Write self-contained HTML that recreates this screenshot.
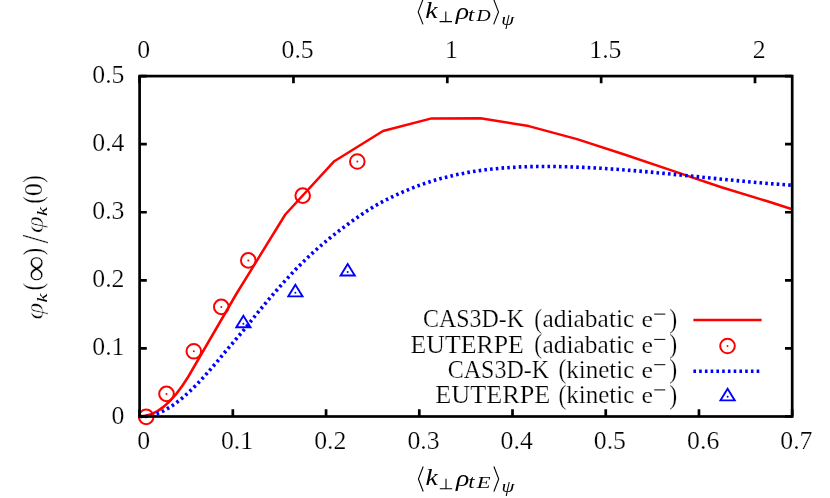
<!DOCTYPE html>
<html><head><meta charset="utf-8"><title>chart</title>
<style>
html,body{margin:0;padding:0;background:#fff;}
svg{display:block;will-change:transform;}
text{font-family:"Liberation Serif",serif;fill:#000;stroke:#fff;stroke-width:0.22px;}
.t{font-size:24.2px;}
.i{font-style:italic;stroke:none;}
</style></head><body>
<svg width="830" height="498" viewBox="0 0 830 498">
<rect width="830" height="498" fill="#fff"/>
<path d="M139.6 416.5 Q163.85 416.5 188.1 377.0 L236.6 293.5 L285.3 214.5 L334.3 161.2 L383.0 131.0 L431.6 118.4 L480.5 118.2 L528.7 126.1 L577.0 139.1 L624.4 154.5 L672.9 170.9 L721.4 187.2 L769.8 202.0 L792.2 209.3" fill="none" stroke="#f00" stroke-width="2.5" stroke-linejoin="round"/>
<path d="M139.6 416.5 L145.6 416.4 L151.6 415.3 L157.6 413.4 L163.6 410.8 L169.6 407.4 L175.6 403.3 L181.6 398.6 L187.6 393.3 L193.6 387.6 L199.6 381.5 L205.6 374.9 L211.6 368.1 L217.6 361.1 L223.6 353.8 L229.6 346.7 L235.6 339.7 L241.6 332.6 L247.6 325.3 L253.6 317.8 L259.6 310.4 L265.6 303.2 L271.6 296.1 L277.6 289.2 L283.6 282.4 L289.6 275.9 L295.6 269.5 L301.6 263.5 L307.6 257.6 L313.6 252.0 L319.6 246.7 L325.6 241.6 L331.6 236.6 L337.6 231.9 L343.6 227.4 L349.6 222.9 L355.6 218.6 L361.6 214.5 L367.6 210.5 L373.6 206.7 L379.6 203.3 L385.6 200.1 L391.6 197.1 L397.6 194.3 L403.6 191.6 L409.6 189.1 L415.6 186.7 L421.6 184.5 L427.6 182.5 L433.6 180.6 L439.6 178.9 L440.0 178.7 L456.0 174.8 L472.0 171.7 L488.0 169.4 L504.0 167.9 L520.0 166.9 L536.0 166.5 L552.0 166.5 L568.0 166.8 L584.0 167.4 L600.0 168.2 L616.0 169.3 L632.0 170.5 L648.0 171.9 L664.0 173.4 L680.0 175.0 L696.0 176.6 L712.0 178.2 L728.0 179.8 L744.0 181.3 L760.0 182.8 L776.0 184.1 L792.0 185.2 L792.2 185.2" fill="none" stroke="#00f" stroke-width="3.6" stroke-dasharray="2.6 3.15" stroke-linejoin="round"/>
<circle cx="146.2" cy="416.9" r="7.3" fill="none" stroke="#f00" stroke-width="2.0"/><circle cx="146.2" cy="416.9" r="1" fill="#f00"/>
<circle cx="166.5" cy="393.9" r="7.3" fill="none" stroke="#f00" stroke-width="2.0"/><circle cx="166.5" cy="393.9" r="1" fill="#f00"/>
<circle cx="193.8" cy="351.3" r="7.3" fill="none" stroke="#f00" stroke-width="2.0"/><circle cx="193.8" cy="351.3" r="1" fill="#f00"/>
<circle cx="221.3" cy="306.9" r="7.3" fill="none" stroke="#f00" stroke-width="2.0"/><circle cx="221.3" cy="306.9" r="1" fill="#f00"/>
<circle cx="248.3" cy="260.4" r="7.3" fill="none" stroke="#f00" stroke-width="2.0"/><circle cx="248.3" cy="260.4" r="1" fill="#f00"/>
<circle cx="302.7" cy="195.6" r="7.3" fill="none" stroke="#f00" stroke-width="2.0"/><circle cx="302.7" cy="195.6" r="1" fill="#f00"/>
<circle cx="357.3" cy="161.5" r="7.3" fill="none" stroke="#f00" stroke-width="2.0"/><circle cx="357.3" cy="161.5" r="1" fill="#f00"/>
<path d="M243.40 315.75 L236.30 327.25 L250.50 327.25 Z" fill="none" stroke="#00f" stroke-width="1.9" stroke-linejoin="miter"/><circle cx="243.4" cy="323.7" r="1" fill="#00f"/>
<path d="M295.40 284.85 L288.30 296.35 L302.50 296.35 Z" fill="none" stroke="#00f" stroke-width="1.9" stroke-linejoin="miter"/><circle cx="295.4" cy="292.8" r="1" fill="#00f"/>
<path d="M347.70 264.05 L340.60 275.55 L354.80 275.55 Z" fill="none" stroke="#00f" stroke-width="1.9" stroke-linejoin="miter"/><circle cx="347.7" cy="272.0" r="1" fill="#00f"/>
<path d="M693.4 320.1 H761.6" stroke="#f00" stroke-width="2.5"/>
<circle cx="727.5" cy="346.0" r="7.3" fill="none" stroke="#f00" stroke-width="2.0"/><circle cx="727.5" cy="346.0" r="1" fill="#f00"/>
<path d="M693.4 371.3 H761.6" stroke="#00f" stroke-width="3.6" stroke-dasharray="2.6 3.15"/>
<path d="M727.60 388.85 L720.50 400.35 L734.70 400.35 Z" fill="none" stroke="#00f" stroke-width="1.9" stroke-linejoin="miter"/><circle cx="727.6" cy="396.8" r="1" fill="#00f"/>
<path d="M139.60 416.5 V409.3 M232.83 416.5 V409.3 M326.06 416.5 V409.3 M419.29 416.5 V409.3 M512.51 416.5 V409.3 M605.74 416.5 V409.3 M698.97 416.5 V409.3 M792.20 416.5 V409.3 M139.60 76.1 V83.3 M293.45 76.1 V83.3 M447.30 76.1 V83.3 M601.15 76.1 V83.3 M755.00 76.1 V83.3 M139.6 416.50 H146.8 M792.2 416.50 H785.0 M139.6 348.42 H146.8 M792.2 348.42 H785.0 M139.6 280.34 H146.8 M792.2 280.34 H785.0 M139.6 212.26 H146.8 M792.2 212.26 H785.0 M139.6 144.18 H146.8 M792.2 144.18 H785.0 M139.6 76.10 H146.8 M792.2 76.10 H785.0" stroke="#000" stroke-width="2.7" fill="none"/>
<rect x="139.6" y="76.1" width="652.6" height="340.4" fill="none" stroke="#000" stroke-width="2.7"/>
<text class="t" x="143.8" y="449.0" text-anchor="middle" textLength="12.9" lengthAdjust="spacingAndGlyphs">0</text>
<text class="t" x="237.0" y="449.0" text-anchor="middle" textLength="32.2" lengthAdjust="spacingAndGlyphs">0.1</text>
<text class="t" x="330.3" y="449.0" text-anchor="middle" textLength="32.2" lengthAdjust="spacingAndGlyphs">0.2</text>
<text class="t" x="423.5" y="449.0" text-anchor="middle" textLength="32.2" lengthAdjust="spacingAndGlyphs">0.3</text>
<text class="t" x="516.7" y="449.0" text-anchor="middle" textLength="32.2" lengthAdjust="spacingAndGlyphs">0.4</text>
<text class="t" x="609.9" y="449.0" text-anchor="middle" textLength="32.2" lengthAdjust="spacingAndGlyphs">0.5</text>
<text class="t" x="703.2" y="449.0" text-anchor="middle" textLength="32.2" lengthAdjust="spacingAndGlyphs">0.6</text>
<text class="t" x="796.4" y="449.0" text-anchor="middle" textLength="32.2" lengthAdjust="spacingAndGlyphs">0.7</text>
<text class="t" x="143.8" y="57.9" text-anchor="middle" textLength="12.9" lengthAdjust="spacingAndGlyphs">0</text>
<text class="t" x="297.6" y="57.9" text-anchor="middle" textLength="32.2" lengthAdjust="spacingAndGlyphs">0.5</text>
<text class="t" x="451.5" y="57.9" text-anchor="middle" textLength="12.9" lengthAdjust="spacingAndGlyphs">1</text>
<text class="t" x="605.4" y="57.9" text-anchor="middle" textLength="32.2" lengthAdjust="spacingAndGlyphs">1.5</text>
<text class="t" x="759.2" y="57.9" text-anchor="middle" textLength="12.9" lengthAdjust="spacingAndGlyphs">2</text>
<text class="t" x="124.5" y="423.5" text-anchor="end" textLength="12.9" lengthAdjust="spacingAndGlyphs">0</text>
<text class="t" x="124.5" y="355.4" text-anchor="end" textLength="32.2" lengthAdjust="spacingAndGlyphs">0.1</text>
<text class="t" x="124.5" y="287.3" text-anchor="end" textLength="32.2" lengthAdjust="spacingAndGlyphs">0.2</text>
<text class="t" x="124.5" y="219.3" text-anchor="end" textLength="32.2" lengthAdjust="spacingAndGlyphs">0.3</text>
<text class="t" x="124.5" y="151.2" text-anchor="end" textLength="32.2" lengthAdjust="spacingAndGlyphs">0.4</text>
<text class="t" x="124.5" y="83.1" text-anchor="end" textLength="32.2" lengthAdjust="spacingAndGlyphs">0.5</text>
<text class="t" x="423.0" y="327.4" text-anchor="start" textLength="100.9" lengthAdjust="spacingAndGlyphs">CAS3D-K</text>
<text class="t" x="542.4" y="327.4" text-anchor="start" textLength="92.0" lengthAdjust="spacingAndGlyphs">adiabatic</text>
<text font-size="24.0" transform="translate(641.46,327.47) scale(1.081,0.972)">e</text>
<path d="M654.2 314.1 H665.3" stroke="#000" stroke-width="1.0"/>
<text font-size="24.0" transform="translate(534.34,327.79) scale(0.980,1.162)">(</text><text font-size="24.0" transform="translate(669.23,327.79) scale(1.001,1.162)">)</text>
<text class="t" x="410.6" y="352.7" text-anchor="start" textLength="113.2" lengthAdjust="spacingAndGlyphs">EUTERPE</text>
<text class="t" x="542.4" y="352.7" text-anchor="start" textLength="92.0" lengthAdjust="spacingAndGlyphs">adiabatic</text>
<text font-size="24.0" transform="translate(641.46,352.77) scale(1.081,0.972)">e</text>
<path d="M654.2 339.4 H665.3" stroke="#000" stroke-width="1.0"/>
<text font-size="24.0" transform="translate(534.34,353.09) scale(0.980,1.162)">(</text><text font-size="24.0" transform="translate(669.23,353.09) scale(1.001,1.162)">)</text>
<text class="t" x="447.8" y="378.0" text-anchor="start" textLength="101.3" lengthAdjust="spacingAndGlyphs">CAS3D-K</text>
<text class="t" x="566.2" y="378.0" text-anchor="start" textLength="68.2" lengthAdjust="spacingAndGlyphs">kinetic</text>
<text font-size="24.0" transform="translate(641.46,378.07) scale(1.081,0.972)">e</text>
<path d="M654.2 364.7 H665.3" stroke="#000" stroke-width="1.0"/>
<text font-size="24.0" transform="translate(558.54,378.39) scale(0.980,1.162)">(</text><text font-size="24.0" transform="translate(669.23,378.39) scale(1.001,1.162)">)</text>
<text class="t" x="435.2" y="403.2" text-anchor="start" textLength="115.2" lengthAdjust="spacingAndGlyphs">EUTERPE</text>
<text class="t" x="566.2" y="403.2" text-anchor="start" textLength="68.2" lengthAdjust="spacingAndGlyphs">kinetic</text>
<text font-size="24.0" transform="translate(641.46,403.27) scale(1.081,0.972)">e</text>
<path d="M654.2 389.9 H665.3" stroke="#000" stroke-width="1.0"/>
<text font-size="24.0" transform="translate(558.54,403.59) scale(0.980,1.162)">(</text><text font-size="24.0" transform="translate(669.23,403.59) scale(1.001,1.162)">)</text>
<g transform="translate(0,0)"><path d="M423.0 -0.6 L418.2 11.9 L423.0 24.4" fill="none" stroke="#000" stroke-width="1.1"/><text class="i" font-size="24.0" transform="translate(425.37,17.90) scale(1.158,0.995)">k</text><path d="M439.6 21.6 H452.0 M445.8 21.6 V11.6" fill="none" stroke="#000" stroke-width="1.1"/><text class="i" font-size="24.0" transform="translate(455.79,18.81) scale(1.158,0.941)">ρ</text><text class="i" font-size="24.0" transform="translate(468.07,21.12) scale(0.955,0.754)">t</text><text class="i" font-size="24.0" transform="translate(476.50,21.27) scale(0.818,0.685)">D</text><path d="M493.7 -0.6 L498.5 11.9 L493.7 24.4" fill="none" stroke="#000" stroke-width="1.1"/><text class="i" font-size="24.0" transform="translate(501.36,25.24) scale(0.862,0.660)">ψ</text></g>
<g transform="translate(0.2,467.1)"><path d="M423.0 -0.6 L418.2 11.9 L423.0 24.4" fill="none" stroke="#000" stroke-width="1.1"/><text class="i" font-size="24.0" transform="translate(425.37,17.90) scale(1.158,0.995)">k</text><path d="M439.6 21.6 H452.0 M445.8 21.6 V11.6" fill="none" stroke="#000" stroke-width="1.1"/><text class="i" font-size="24.0" transform="translate(455.79,18.81) scale(1.158,0.941)">ρ</text><text class="i" font-size="24.0" transform="translate(468.07,21.12) scale(0.955,0.754)">t</text><text class="i" font-size="24.0" transform="translate(476.57,21.30) scale(0.940,0.687)">E</text><path d="M493.7 -0.6 L498.5 11.9 L493.7 24.4" fill="none" stroke="#000" stroke-width="1.1"/><text class="i" font-size="24.0" transform="translate(501.36,25.24) scale(0.862,0.660)">ψ</text></g>
<g transform="translate(42.0,246.3) rotate(-90)"><text class="i" style="stroke:#fff;stroke-width:0.5px" font-size="24.0" transform="translate(-73.53,0.69) scale(1.288,1.023)">φ</text><text class="i" font-size="24.0" transform="translate(-56.32,5.10) scale(0.857,0.624)">k</text><text font-size="24.0" transform="translate(-43.89,0.08) scale(0.915,1.144)">(</text><text font-size="24.0" transform="translate(-35.39,3.84) scale(1.524,1.349)">∞</text><text font-size="24.0" transform="translate(-8.99,0.08) scale(0.904,1.144)">)</text><text font-size="24.0" transform="translate(2.80,5.53) scale(1.319,1.549)">/</text><text class="i" style="stroke:#fff;stroke-width:0.5px" font-size="24.0" transform="translate(13.07,0.69) scale(1.288,1.023)">φ</text><text class="i" font-size="24.0" transform="translate(30.28,5.10) scale(0.857,0.624)">k</text><text font-size="24.0" transform="translate(42.81,0.08) scale(0.915,1.144)">(</text><text font-size="24.0" transform="translate(50.00,0.05) scale(1.101,1.043)">0</text><text font-size="24.0" transform="translate(63.49,0.08) scale(0.921,1.144)">)</text></g>
</svg>
</body></html>
